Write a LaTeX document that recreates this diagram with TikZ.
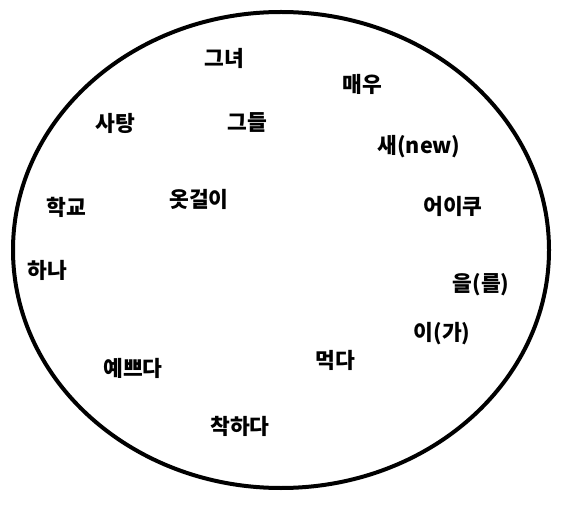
\documentclass[tikz,border=0pt]{standalone}
\usepackage{fontspec}
\newfontfamily\kr{Noto Sans CJK KR}
\begin{document}
\begin{tikzpicture}[x=1pt, y=-1pt, line join=round, line cap=round]
\tikzset{word/.style={font=\kr\bfseries\fontsize{21.5}{23}\selectfont, inner sep=0pt}}
\useasboundingbox (0,0) rectangle (565,505);
\draw[line width=4pt] (281,250) ellipse[x radius=268, y radius=238];
\node[word] (geunyeo) at (224,58) {그녀};
\node[word] (maeu) at (362,84) {매우};
\node[word] (satang) at (115,123) {사탕};
\node[word] (geudeul) at (247,123) {그들};
\node[word] (sae) at (419,147) {새(new)};
\node[word] (hakgyo) at (66,207) {학교};
\node[word] (otgeori) at (199,199) {옷걸이};
\node[word] (eoiku) at (453,206) {어이쿠};
\node[word] (hana) at (47,270) {하나};
\node[word] (eul) at (481,285) {을(를)};
\node[word] (iga) at (442,334) {이(가)};
\node[word] (meokda) at (335,360) {먹다};
\node[word] (yeppeuda) at (133,368) {예쁘다};
\node[word] (chakhada) at (240,426) {착하다};
\end{tikzpicture}
\end{document}
